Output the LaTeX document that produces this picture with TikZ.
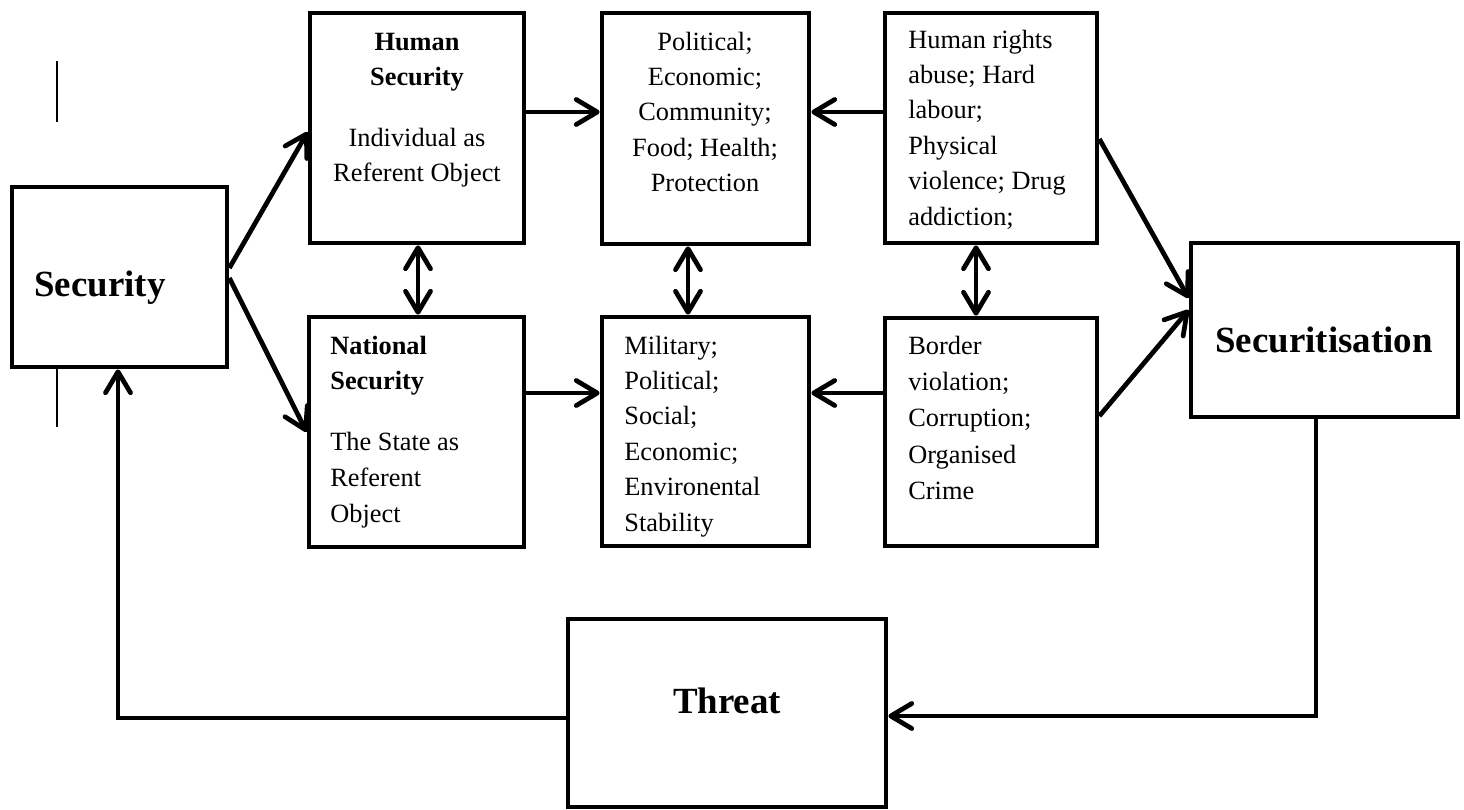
\documentclass[tikz,border=0pt]{standalone}
\usepackage{fontspec}
\setmainfont{Liberation Serif}
\usetikzlibrary{arrows.meta,fit,calc}
\tikzset{
  box/.style={draw, line width=2.7pt, inner sep=0pt},
  tipx/.tip={Straight Barb[length=4.2mm,width=5mm,round]},
  arr/.style={line width=2.7pt, -tipx},
  darr/.style={line width=2.7pt, tipx-tipx},
  lbl/.style={inner sep=0pt, anchor=base west, font=\fontsize{15}{19.92}\selectfont},
  clbl/.style={inner sep=0pt, anchor=base, font=\fontsize{15}{19.92}\selectfont},
  big/.style={inner sep=0pt, font=\fontsize{21}{25}\selectfont\bfseries},
  thin/.style={line width=0.9pt}
}
\begin{document}
\begin{tikzpicture}[x=0.02cm,y=-0.02cm]
\useasboundingbox (0,0) rectangle (1464,809);
% boxes
\node[box, fit={(12,187) (227,367)}] (sec) {};
\node[box, fit={(310,13) (524,243)}] (hum) {};
\node[box, fit={(309,317) (524,547)}] (nat) {};
\node[box, fit={(602,13) (809,244)}] (pol) {};
\node[box, fit={(602,317) (809,546)}] (mil) {};
\node[box, fit={(885,13) (1097,243)}] (hr) {};
\node[box, fit={(885,318) (1097,546)}] (bor) {};
\node[box, fit={(1191,243) (1458,417)}] (secz) {};
\node[box, fit={(568,619) (886,807)}] (thr) {};
% texts
\node[big, anchor=base west] (tsec) at (34,296) {Security};
\node[big, anchor=base] (tsecz) at (1324,352) {Securitisation};
\node[big, anchor=base] (tthr) at (727,713) {Threat};
\node[clbl] (thum1) at (417,50) {\parbox[t]{5cm}{\centering\bfseries Human\\Security}};
\node[clbl] (thum2) at (417,146) {\parbox[t]{5cm}{\centering Individual as\\Referent Object}};
\node[lbl] (tnat1) at (330,354) {\parbox[t]{5cm}{\raggedright\bfseries National\\Security}};
\node[lbl, font=\fontsize{15}{20.5}\selectfont] (tnat2) at (330,450) {\parbox[t]{5cm}{\raggedright The State as\\Referent\\Object}};
\node[clbl, font=\fontsize{15}{20.2}\selectfont] (tpol) at (705,50) {\parbox[t]{5cm}{\centering Political;\\Economic;\\Community;\\Food; Health;\\Protection}};
\node[lbl, font=\fontsize{15}{20.2}\selectfont] (thr1) at (908,48) {\parbox[t]{5cm}{\raggedright Human rights\\abuse; Hard\\labour;\\Physical\\violence; Drug\\addiction;}};
\node[lbl, font=\fontsize{15}{20.2}\selectfont] (tmil) at (624,354) {\parbox[t]{5cm}{\raggedright Military;\\Political;\\Social;\\Economic;\\Environental\\Stability}};
\node[lbl, font=\fontsize{15}{20.7}\selectfont] (tbor) at (908,354) {\parbox[t]{5cm}{\raggedright Border\\violation;\\Corruption;\\Organised\\Crime}};
% stray marks
\coordinate (m1) at (57,61); \coordinate (m2) at (57,122);
\coordinate (m3) at (57,367); \coordinate (m4) at (57,427);
\draw[thin] (m1) -- (m2);
\draw[thin] (m3) -- (m4);
% helper coordinates
\coordinate (ya) at (0,112);
\coordinate (yb) at (0,393);
\coordinate (c1) at (1316,716);
\coordinate (c2) at (118,718);
% connectors
\draw[arr] ([yshift=0.18cm]sec.east) -- ([yshift=-0.08cm]hum.west);
\draw[arr] ([yshift=-0.02cm]sec.east) -- (nat.west);
\draw[arr] (hum.east |- ya) -- (pol.west |- ya);
\draw[arr] (hr.west |- ya) -- (pol.east |- ya);
\draw[arr] (nat.east |- yb) -- (mil.west |- yb);
\draw[arr] (bor.west |- yb) -- (mil.east |- yb);
\draw[darr] (hum.south -| 418,0) -- (nat.north -| 418,0);
\draw[darr] (pol.south -| 688,0) -- (mil.north -| 688,0);
\draw[darr] (hr.south -| 976,0) -- (bor.north -| 976,0);
\draw[arr] ([yshift=-0.22cm]hr.east) -- ([yshift=0.64cm]secz.west);
\draw[arr] ([yshift=0.32cm]bor.east) -- ([yshift=0.40cm]secz.west);
\draw[arr] (secz.south -| c1) -- (c1) -- (c1 -| thr.east);
\draw[arr] (c2 -| thr.west) -- (c2) -- (c2 |- sec.south);
\end{tikzpicture}
\end{document}
